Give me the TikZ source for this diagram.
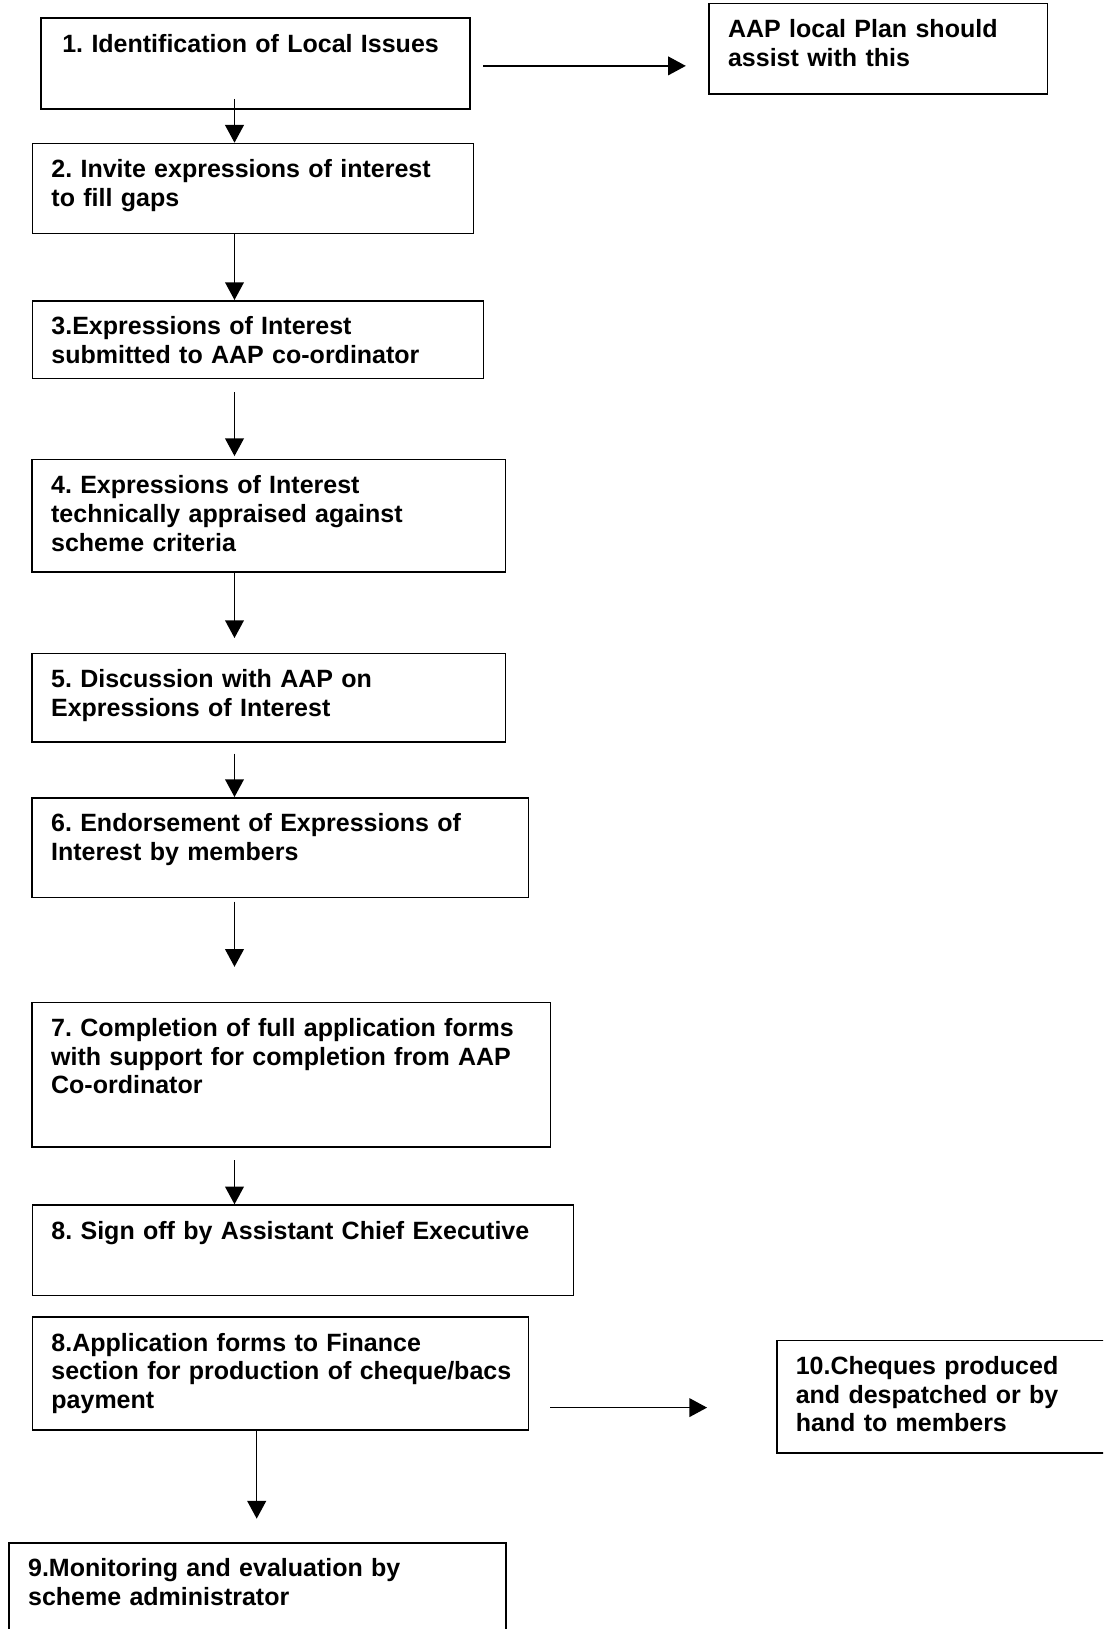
\documentclass[tikz,border=0pt]{standalone}
\usepackage{fontspec}
\setmainfont{Liberation Sans}
\usetikzlibrary{arrows.meta}
\frenchspacing

\begin{document}
\begin{tikzpicture}[x=0.48pt,y=-0.48pt,
      stepbox/.style={draw,line width=0.75pt,anchor=north west,align=left,
        inner xsep=9.1pt,inner ysep=7.3pt,text height=9pt,
        font=\bfseries\fontsize{12}{13.8}\selectfont},
      arr/.style={-{Triangle[length=8.5pt,width=9pt]},line width=0.7pt}]
      \useasboundingbox (0,0) rectangle (1103,1629);
      \clip (0,0) rectangle (1103,1629);
      \coordinate (spine) at (234.5,0);
      \coordinate (spinelow) at (256.7,0);
      % left column
      \node[stepbox,text width=187.8pt,text depth=20.1pt] (issues) at (40.1,17.3)
        {\hspace{1.2pt}1. Identification of Local Issues};
      \node[stepbox,text width=193.5pt,text depth=19.6pt] (invite) at (31.7,142.7)
        {2. Invite expressions of interest\\to fill gaps};
      \node[stepbox,text width=198.2pt,text depth=13.8pt] (submit) at (31.7,300)
        {3.Expressions of Interest\\submitted to AAP co-ordinator};
      \node[stepbox,text width=209pt,text depth=30.4pt] (appraise) at (31.4,458.8)
        {4. Expressions of Interest\\technically appraised against\\scheme criteria};
      \node[stepbox,text width=209pt,text depth=19pt] (discuss) at (31.4,652.6)
        {5. Discussion with AAP on\\Expressions of Interest};
      \node[stepbox,text width=220pt,text depth=24.2pt] (endorse) at (31.4,797)
        {6. Endorsement of Expressions of\\Interest by members};
      \node[stepbox,text width=230.6pt,text depth=45.7pt] (complete) at (31.4,1001.6)
        {7. Completion of full application forms\\with support for completion from AAP\\Co-ordinator};
      \node[stepbox,text width=241.5pt,text depth=19.8pt] (signoff) at (31.7,1204.3)
        {8. Sign off by Assistant Chief Executive};
      \node[stepbox,text width=219.9pt,text depth=30.6pt] (finance) at (31.7,1316.4)
        {8.Application forms to Finance\\\mbox{section for production of cheque/bacs}\\payment};
      \node[stepbox,text width=220.2pt,text depth=30pt] (monitor) at (8.4,1542)
        {9.Monitoring and evaluation by\\scheme administrator};
      % right column
      \node[stepbox,text width=144.2pt,text depth=19.9pt] (plan) at (708.3,2.7)
        {AAP local Plan should\\assist with this};
      \node[stepbox,text width=160pt,text depth=30.4pt] (cheques) at (776,1339.6)
        {10.Cheques produced\\and despatched or by\\hand to members};
      % arrows
      \draw[arr,shorten <=-5.3pt] (issues.south -| spine) -- (invite.north -| spine);
      \draw[arr] (invite.south -| spine) -- (submit.north -| spine);
      \draw[arr,shorten <=6.2pt,shorten >=1.3pt] (submit.south -| spine) -- (appraise.north -| spine);
      \draw[arr,shorten >=7pt] (appraise.south -| spine) -- (discuss.north -| spine);
      \draw[arr,shorten <=5.1pt] (discuss.south -| spine) -- (endorse.north -| spine);
      \draw[arr,shorten <=1.7pt,shorten >=16.7pt] (endorse.south -| spine) -- (complete.north -| spine);
      \draw[arr,shorten <=6.2pt] (complete.south -| spine) -- (signoff.north -| spine);
      \draw[arr,shorten >=11.2pt] (finance.south -| spinelow) -- (monitor.north -| spinelow);
      \draw[arr,shorten <=6pt,shorten >=10.8pt] ([yshift=-1.1pt]issues.east) -- ([yshift=-1.1pt]issues.east -| plan.west);
      \draw[arr,shorten <=10.1pt,shorten >=33.1pt] ([yshift=-16.3pt]finance.east) -- ([yshift=-16.3pt]finance.east -| cheques.west);
\end{tikzpicture}
\end{document}
